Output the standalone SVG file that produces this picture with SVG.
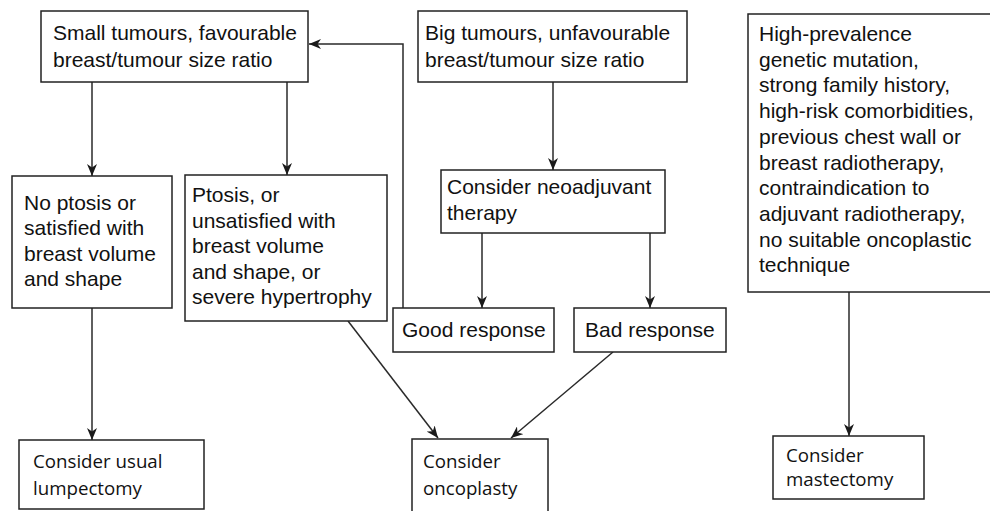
<svg xmlns="http://www.w3.org/2000/svg" width="990" height="511" viewBox="0 0 990 511">
  <defs>
    <marker id="arrow" markerUnits="userSpaceOnUse" markerWidth="12" markerHeight="10" refX="12" refY="5" orient="auto">
      <path d="M0,0 L12,5 L0,10 L3.5,5 z" fill="#1a1a1a"/>
    </marker>
  </defs>
  <style>
    .box { fill: #fff; stroke: #222; stroke-width: 1.5; }
    .t { font-family: "Liberation Sans", Arial, sans-serif; font-size: 21px; fill: #111; }
    .t2 { font-family: "Open Sans", "Noto Sans", sans-serif; font-size: 18.7px; fill: #111; }
    .edge { fill: none; stroke: #2a2a2a; stroke-width: 1.5; marker-end: url(#arrow); }
  </style>
  <rect width="990" height="511" fill="#fff"/>

  <g id="connectors">
    <path class="edge" d="M92,82 V176"/>
    <path class="edge" d="M287,82 V175"/>
    <path class="edge" d="M553,82 V170"/>
    <path class="edge" d="M482,233 V308"/>
    <path class="edge" d="M650,233 V308"/>
    <path class="edge" d="M403,308 V44 H309"/>
    <path class="edge" d="M92,308 V440"/>
    <path class="edge" d="M348,321 L438,438"/>
    <path class="edge" d="M613,352 L511,438"/>
    <path class="edge" d="M849,292 V436"/>
  </g>

  <g id="small-tumours">
    <rect class="box" x="41" y="11" width="267" height="71"/>
    <text class="t" x="53" y="40">Small tumours, favourable</text>
    <text class="t" x="53" y="67">breast/tumour size ratio</text>
  </g>

  <g id="big-tumours">
    <rect class="box" x="418" y="11" width="269" height="71"/>
    <text class="t" x="425" y="40">Big tumours, unfavourable</text>
    <text class="t" x="425" y="67">breast/tumour size ratio</text>
  </g>

  <g id="high-risk">
    <rect class="box" x="748" y="14" width="250" height="278"/>
    <text class="t" x="759" y="41">High-prevalence</text>
    <text class="t" x="759" y="66.7">genetic mutation,</text>
    <text class="t" x="759" y="92.4">strong family history,</text>
    <text class="t" x="759" y="118.1">high-risk comorbidities,</text>
    <text class="t" x="759" y="143.8">previous chest wall or</text>
    <text class="t" x="759" y="169.5">breast radiotherapy,</text>
    <text class="t" x="759" y="195.2">contraindication to</text>
    <text class="t" x="759" y="220.9">adjuvant radiotherapy,</text>
    <text class="t" x="759" y="246.6">no suitable oncoplastic</text>
    <text class="t" x="759" y="272.3">technique</text>
  </g>

  <g id="no-ptosis">
    <rect class="box" x="12" y="176" width="160" height="132"/>
    <text class="t" x="24" y="210">No ptosis or</text>
    <text class="t" x="24" y="235.3">satisfied with</text>
    <text class="t" x="24" y="260.6">breast volume</text>
    <text class="t" x="24" y="286">and shape</text>
  </g>

  <g id="ptosis">
    <rect class="box" x="185" y="175" width="202" height="146"/>
    <text class="t" x="192" y="202">Ptosis, or</text>
    <text class="t" x="192" y="227.5">unsatisfied with</text>
    <text class="t" x="192" y="253">breast volume</text>
    <text class="t" x="192" y="278.5">and shape, or</text>
    <text class="t" x="192" y="304">severe hypertrophy</text>
  </g>

  <g id="neoadjuvant">
    <rect class="box" x="441" y="170" width="224" height="63"/>
    <text class="t" x="447" y="194">Consider neoadjuvant</text>
    <text class="t" x="447" y="220">therapy</text>
  </g>

  <g id="good-response">
    <rect class="box" x="393" y="308" width="161" height="44"/>
    <text class="t" x="402" y="337">Good response</text>
  </g>

  <g id="bad-response">
    <rect class="box" x="574" y="308" width="152" height="44"/>
    <text class="t" x="585" y="337">Bad response</text>
  </g>

  <g id="lumpectomy">
    <rect class="box" x="19" y="440" width="185" height="69"/>
    <text class="t2" x="33" y="468">Consider usual</text>
    <text class="t2" x="33" y="495">lumpectomy</text>
  </g>

  <g id="oncoplasty">
    <rect class="box" x="412" y="439" width="136" height="80"/>
    <text class="t2" x="423" y="468">Consider</text>
    <text class="t2" x="423" y="495">oncoplasty</text>
  </g>

  <g id="mastectomy">
    <rect class="box" x="773" y="436" width="151" height="63"/>
    <text class="t2" x="786" y="462">Consider</text>
    <text class="t2" x="786" y="486">mastectomy</text>
  </g>
</svg>
